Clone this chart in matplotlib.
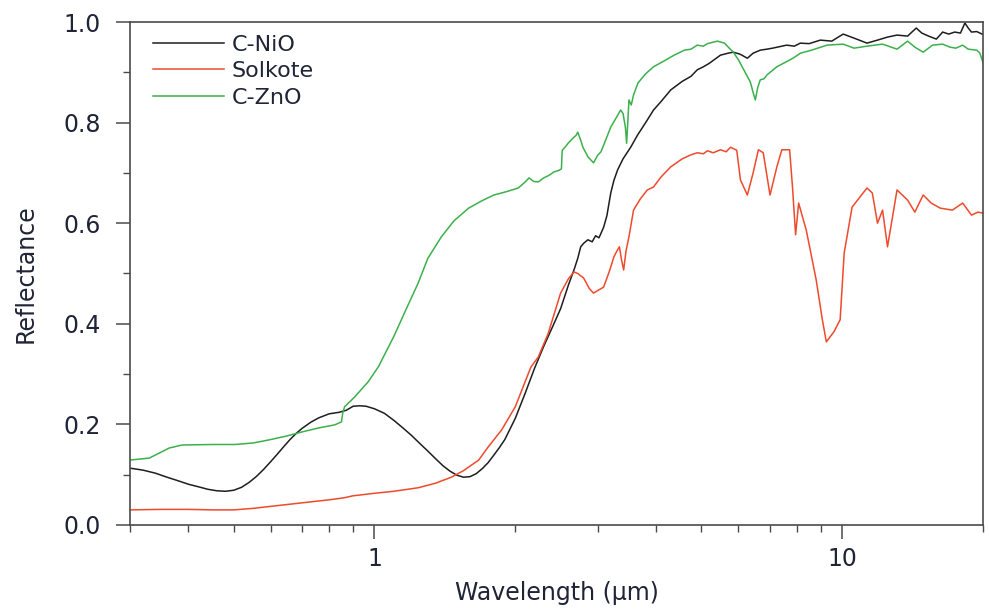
import matplotlib
matplotlib.use("Agg")
import matplotlib.pyplot as plt
from matplotlib.ticker import LogLocator, NullFormatter, FixedLocator, FixedFormatter, MultipleLocator

# Spectral reflectance of three selective absorber coatings (0.3 - 20 um)
nio_wl = [0.30, 0.32, 0.34, 0.36, 0.38, 0.40, 0.42, 0.44, 0.46, 0.48, 0.50, 0.52,
          0.54, 0.56, 0.58, 0.60, 0.62, 0.64, 0.66, 0.68, 0.70, 0.73, 0.76, 0.80,
          0.84, 0.87, 0.90, 0.93, 0.96, 1.00, 1.05, 1.10, 1.15, 1.20, 1.25, 1.30,
          1.35, 1.40, 1.45, 1.50, 1.55, 1.60, 1.65, 1.70, 1.75, 1.80, 1.85, 1.90,
          2.00, 2.10, 2.20, 2.30, 2.40, 2.50, 2.60, 2.67, 2.72, 2.76, 2.80, 2.86,
          2.92, 2.97, 3.02, 3.05, 3.09, 3.14, 3.20, 3.25, 3.31, 3.40, 3.53, 3.65,
          3.80, 3.95, 4.10, 4.30, 4.55, 4.75, 4.90, 5.05, 5.20, 5.49, 5.70, 5.85,
          6.05, 6.27, 6.45, 6.68, 6.90, 7.10, 7.35, 7.61, 7.90, 8.14, 8.50, 8.98,
          9.50, 10.05, 10.6, 11.3, 11.9, 12.5, 13.1, 13.8, 14.4, 14.8, 15.3, 15.9,
          16.4, 16.9, 17.4, 17.9, 18.3, 18.6, 18.9, 19.4, 19.9, 20.0]
nio_r = [0.113, 0.109, 0.103, 0.095, 0.088, 0.081, 0.076, 0.071, 0.068, 0.067, 0.069, 0.075,
         0.085, 0.097, 0.111, 0.126, 0.141, 0.156, 0.170, 0.182, 0.192, 0.204, 0.213, 0.221,
         0.224, 0.228, 0.236, 0.237, 0.236, 0.231, 0.222, 0.208, 0.193, 0.178, 0.162, 0.147,
         0.132, 0.118, 0.107, 0.099, 0.095, 0.096, 0.102, 0.112, 0.124, 0.139, 0.154, 0.170,
         0.212, 0.262, 0.312, 0.355, 0.393, 0.430, 0.478, 0.507, 0.530, 0.553, 0.560, 0.567,
         0.563, 0.575, 0.571, 0.580, 0.592, 0.615, 0.660, 0.685, 0.706, 0.728, 0.751, 0.775,
         0.800, 0.825, 0.842, 0.865, 0.882, 0.892, 0.905, 0.911, 0.918, 0.934, 0.938, 0.940,
         0.936, 0.928, 0.938, 0.944, 0.946, 0.948, 0.951, 0.954, 0.952, 0.958, 0.957, 0.964,
         0.962, 0.976, 0.968, 0.958, 0.964, 0.970, 0.974, 0.972, 0.988, 0.978, 0.972, 0.966,
         0.980, 0.976, 0.980, 0.978, 0.998, 0.988, 0.980, 0.981, 0.976, 0.976]

sol_wl = [0.30, 0.35, 0.40, 0.45, 0.50, 0.55, 0.60, 0.70, 0.80, 0.86, 0.90, 1.00,
          1.10, 1.24, 1.35, 1.46, 1.55, 1.67, 1.75, 1.87, 2.00, 2.16, 2.24, 2.35,
          2.50, 2.60, 2.67, 2.72, 2.80, 2.88, 2.94, 3.00, 3.09, 3.18, 3.25, 3.30,
          3.34, 3.37, 3.41, 3.45, 3.50, 3.58, 3.70, 3.83, 3.95, 4.10, 4.30, 4.55,
          4.75, 4.90, 5.05, 5.15, 5.30, 5.49, 5.65, 5.77, 5.95, 6.06, 6.27, 6.45,
          6.62, 6.78, 7.01, 7.25, 7.43, 7.72, 7.83, 7.95, 8.07, 8.38, 8.80, 9.07,
          9.25, 9.60, 9.90, 10.1, 10.5, 11.3, 11.6, 11.9, 12.2, 12.5, 13.1, 13.8,
          14.3, 14.9, 15.5, 16.2, 17.2, 18.1, 18.9, 19.5, 20.0]
sol_r = [0.030, 0.031, 0.031, 0.030, 0.030, 0.033, 0.037, 0.044, 0.050, 0.054, 0.058, 0.063,
         0.067, 0.074, 0.083, 0.095, 0.108, 0.129, 0.155, 0.189, 0.235, 0.314, 0.334, 0.380,
         0.461, 0.490, 0.503, 0.500, 0.491, 0.470, 0.461, 0.466, 0.473, 0.505, 0.533, 0.545,
         0.553, 0.530, 0.507, 0.545, 0.573, 0.626, 0.648, 0.666, 0.672, 0.692, 0.712, 0.728,
         0.736, 0.740, 0.738, 0.744, 0.740, 0.746, 0.742, 0.751, 0.745, 0.686, 0.656, 0.700,
         0.746, 0.740, 0.656, 0.712, 0.746, 0.746, 0.672, 0.577, 0.640, 0.586, 0.487, 0.408,
         0.364, 0.384, 0.408, 0.541, 0.632, 0.670, 0.660, 0.600, 0.626, 0.553, 0.666, 0.646,
         0.622, 0.656, 0.640, 0.630, 0.626, 0.640, 0.616, 0.622, 0.620]

zno_wl = [0.30, 0.33, 0.35, 0.364, 0.388, 0.45, 0.503, 0.55, 0.594, 0.65, 0.70, 0.76,
          0.822, 0.85, 0.855, 0.863, 0.906, 0.97, 1.02, 1.10, 1.17, 1.24, 1.30, 1.39,
          1.48, 1.59, 1.70, 1.80, 1.92, 2.03, 2.10, 2.14, 2.19, 2.24, 2.30, 2.36,
          2.42, 2.48, 2.51, 2.52, 2.56, 2.60, 2.65, 2.70, 2.72, 2.76, 2.79, 2.86,
          2.94, 3.00, 3.05, 3.12, 3.20, 3.28, 3.36, 3.40, 3.44, 3.46, 3.48, 3.50,
          3.54, 3.58, 3.66, 3.80, 3.95, 4.15, 4.37, 4.60, 4.75, 4.90, 5.05, 5.15,
          5.41, 5.60, 5.85, 6.00, 6.16, 6.36, 6.45, 6.52, 6.60, 6.68, 6.80, 6.91,
          7.25, 7.85, 8.14, 8.60, 9.28, 10.05, 10.6, 11.3, 12.2, 13.1, 13.8, 14.3,
          14.9, 15.6, 16.4, 17.0, 17.5, 18.1, 18.6, 19.4, 19.7, 20.0]
zno_r = [0.129, 0.133, 0.145, 0.153, 0.159, 0.160, 0.160, 0.163, 0.169, 0.177, 0.185, 0.193,
         0.199, 0.205, 0.222, 0.235, 0.254, 0.285, 0.315, 0.375, 0.430, 0.481, 0.530, 0.573,
         0.605, 0.630, 0.645, 0.656, 0.663, 0.670, 0.682, 0.690, 0.683, 0.682, 0.690, 0.695,
         0.702, 0.705, 0.708, 0.745, 0.752, 0.760, 0.768, 0.775, 0.781, 0.765, 0.751, 0.732,
         0.720, 0.735, 0.742, 0.765, 0.791, 0.808, 0.825, 0.818, 0.790, 0.759, 0.800, 0.845,
         0.835, 0.855, 0.879, 0.897, 0.911, 0.922, 0.934, 0.944, 0.946, 0.954, 0.952, 0.957,
         0.962, 0.958, 0.940, 0.925, 0.905, 0.881, 0.860, 0.845, 0.870, 0.885, 0.887, 0.895,
         0.911, 0.928, 0.938, 0.944, 0.954, 0.956, 0.948, 0.952, 0.956, 0.946, 0.962, 0.950,
         0.940, 0.954, 0.956, 0.950, 0.948, 0.954, 0.946, 0.944, 0.938, 0.920]

series = [("C-NiO", nio_wl, nio_r, "#1e1e1e"),
          ("Solkote", sol_wl, sol_r, "#ee4a2c"),
          ("C-ZnO", zno_wl, zno_r, "#3bb04c")]

plt.rcParams["font.family"] = ["DejaVu Sans"]
text_color = "#1f2436"
spine_color = "#4a4a4a"

fig = plt.figure(figsize=(9.89, 6.13), dpi=100)
ax = fig.add_axes([0.1314, 0.1436, 0.8625, 0.8205])

for name, wl, r, col in series:
    ax.plot(wl, r, color=col, lw=1.1, label=name)

ax.set_xscale("log")
ax.set_xlim(0.3, 20)
ax.set_ylim(0.0, 1.0)

ax.xaxis.set_major_locator(FixedLocator([1, 10]))
ax.xaxis.set_major_formatter(FixedFormatter(["1", "10"]))
ax.xaxis.set_minor_locator(LogLocator(base=10, subs=range(2, 10), numticks=20))
ax.xaxis.set_minor_formatter(NullFormatter())
ax.yaxis.set_major_locator(MultipleLocator(0.2))
ax.yaxis.set_minor_locator(MultipleLocator(0.1))
ax.yaxis.set_major_formatter(plt.FuncFormatter(lambda v, p: f"{v:.1f}"))

ax.tick_params(axis="both", which="major", direction="out", length=10, width=1.1,
               color=spine_color, labelsize=17, labelcolor=text_color)
ax.tick_params(axis="both", which="minor", direction="out", length=5, width=1.0,
               color=spine_color)
ax.tick_params(axis="y", which="major", pad=11)
ax.tick_params(axis="x", which="major", pad=6)

for s in ax.spines.values():
    s.set_color(spine_color)
    s.set_linewidth(1.2)

ax.set_xlabel("Wavelength (\u00b5m)", fontsize=17, color=text_color)
ax.set_ylabel("Reflectance", fontsize=17, color=text_color)
ax.xaxis.set_label_coords(0.5, -0.112)
ax.yaxis.set_label_coords(-0.108, 0.5)

ax.legend(loc="upper left", bbox_to_anchor=(0.027, 0.975), frameon=False,
          fontsize=16, handlelength=3.2, handletextpad=0.35, labelspacing=0.3,
          borderpad=0, borderaxespad=0, labelcolor=text_color)

fig.savefig("out.png", dpi=100)
